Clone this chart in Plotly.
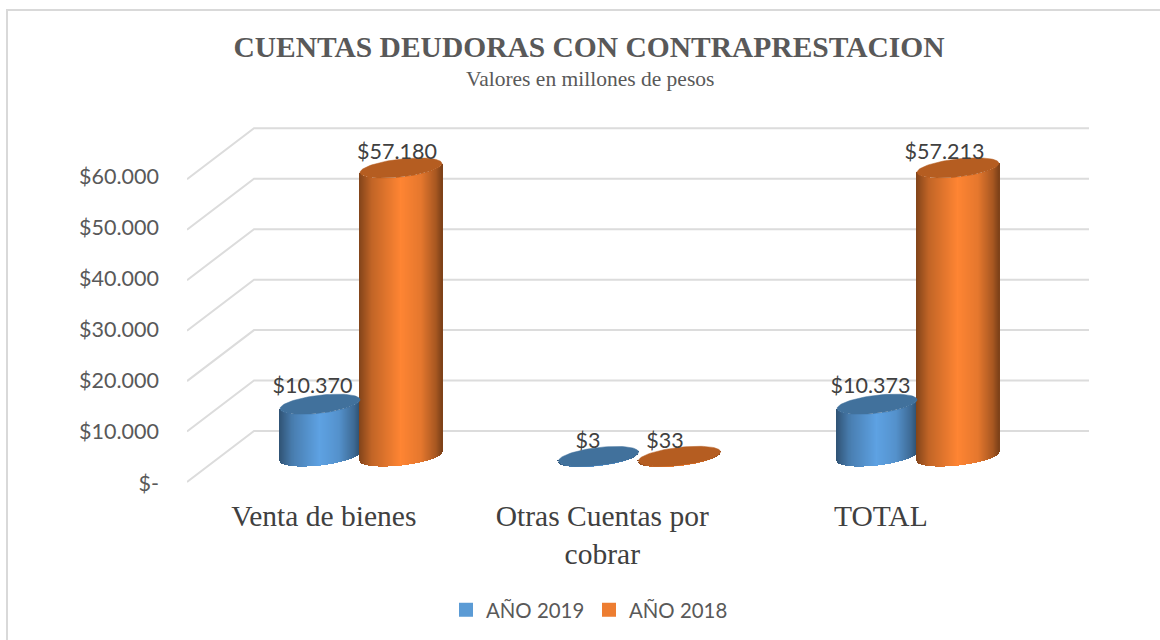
import numpy as np
import plotly.graph_objects as go

# --- data -------------------------------------------------------------
CATEGORIES = ["Venta de bienes", "Otras Cuentas por<br>cobrar", "TOTAL"]
SERIES_2019 = [10370, 3, 10373]
SERIES_2018 = [57180, 33, 57213]
LABELS_2019 = ["$10.370", "$3", "$10.373"]
LABELS_2018 = ["$57.180", "$33", "$57.213"]
Y_TICKS = [0, 10000, 20000, 30000, 40000, 50000, 60000]
Y_TICK_LABELS = ["$-", "$10.000", "$20.000", "$30.000", "$40.000", "$50.000", "$60.000"]

# --- geometry / style --------------------------------------------------
W, H = 1160, 640
PL, PR, PT, PB = 187, 1089, 100, 492
FLOOR_PX = 482
PX_PER_X = 278.5
PX_PER_Y = 50.45 / 10000
X0_PX = 360
XR = [(PL - X0_PX) / PX_PER_X, (PR - X0_PX) / PX_PER_X]
YR = [-(PB - FLOOR_PX) / PX_PER_Y, (FLOOR_PX - PT) / PX_PER_Y]
DX = 67 / PX_PER_X
DY = 51 / PX_PER_Y
BAR_W = 41 / PX_PER_X
BAR_W_2019 = 40 / PX_PER_X
ELL_B = 9 / PX_PER_Y
ELL_S = 4.5 / PX_PER_Y
N = 83
BLUE, ORANGE = (94, 162, 227), (255, 133, 51)
BLUE_CAP, ORANGE_CAP = "#41719c", "#b55d21"
GRID = "#dcdcdc"
TXT = "#404040"
GREY = "#595959"
CAL = "Lato, Carlito, Calibri, sans-serif"
SERIF = "Liberation Serif, Times New Roman, serif"
STOPS_U = [-1, -0.7, 0, 0.5, 0.86, 1]
STOPS_F = [0.52, 0.76, 1.0, 0.9, 0.66, 0.5]
LABEL_DX_2019 = [-7.5, -10.5, -6.5]
LABEL_DX_2018 = [-4, -14.5, -13.5]
LABEL_DY_2019 = [16.5, 13.5, 16.5]
LABEL_DY_2018 = [14.5, 13.5, 14.5]
TICK_SHIFT = -1 / PX_PER_Y


def body(values, side, hw, rgb, name):
    u = np.linspace(-1, 1, N)
    xs, bases, ys, cols = [], [], [], []
    f = np.interp(u, STOPS_U, STOPS_F)
    for i, v in enumerate(values):
        c = i + side * hw
        xs += list(c + u * hw)
        bases += list(DY / 2 + ELL_S * u - ELL_B * np.sqrt(1 - u ** 2))
        ys += [v] * N
        cols += ["rgb(%d,%d,%d)" % tuple(int(k * fi) for k in rgb) for fi in f]
    return go.Bar(x=xs, y=ys, base=bases, width=hw * 2 / (N - 1) * 1.3,
                  marker=dict(color=cols, line=dict(width=0)), name=name,
                  showlegend=False, hoverinfo="skip")


def caps(values, side, hw, color, name):
    th = np.linspace(0, 2 * np.pi, 81)
    xs, ys = [], []
    for i, v in enumerate(values):
        c = i + side * hw
        xs += list(c + hw * np.cos(th)) + [None]
        ys += list(DY / 2 + v + ELL_B * np.sin(th) + ELL_S * np.cos(th)) + [None]
    return go.Scatter(x=xs, y=ys, mode="lines", fill="toself", fillcolor=color,
                      line=dict(color=color, width=0.5), showlegend=False, hoverinfo="skip", name=name)


def labels(values, side, hw, texts, dxs, dys):
    return go.Scatter(
        x=[i + side * hw + dxs[i] / PX_PER_X for i in range(len(values))],
        y=[DY / 2 + v + dys[i] / PX_PER_Y for i, v in enumerate(values)],
        mode="text", text=texts, textposition="middle center",
        textfont=dict(family=CAL, size=21.5, color=TXT), showlegend=False, hoverinfo="skip")


def legend_key(name, color):
    return go.Scatter(x=[None], y=[None], mode="markers", name=name,
                      marker=dict(symbol="square", size=14, color=color))


fig = go.Figure()
fig.add_trace(body(SERIES_2019, -1, BAR_W_2019, BLUE, "AÑO 2019"))
fig.add_trace(body(SERIES_2018, 1, BAR_W, ORANGE, "AÑO 2018"))
fig.add_trace(caps(SERIES_2019, -1, BAR_W_2019, BLUE_CAP, "AÑO 2019"))
fig.add_trace(caps(SERIES_2018, 1, BAR_W, ORANGE_CAP, "AÑO 2018"))
fig.add_trace(labels(SERIES_2019, -1, BAR_W_2019, LABELS_2019, LABEL_DX_2019, LABEL_DY_2019))
fig.add_trace(labels(SERIES_2018, 1, BAR_W, LABELS_2018, LABEL_DX_2018, LABEL_DY_2018))
fig.add_trace(legend_key("AÑO 2019", "#5b9bd5"))
fig.add_trace(legend_key("AÑO 2018", "#ed7d31"))

shapes = []
for v in Y_TICKS:
    shapes.append(dict(type="path", layer="below", xref="x", yref="y",
                       path="M %f %f L %f %f L %f %f" % (XR[0], v, XR[0] + DX, v + DY, XR[1], v + DY),
                       line=dict(color=GRID, width=2)))
fx = lambda px: (px - PL) / (PR - PL)
fy = lambda py: (PB - py) / (PB - PT)
shapes.append(dict(type="path", xref="paper", yref="paper", layer="below",
                   path="M %f %f L %f %f L %f %f" % (fx(7), fy(640), fx(7), fy(10), fx(1160), fy(10)),
                   line=dict(color="#d9d9d9", width=2)))

fig.update_layout(
    width=W, height=H, autosize=False,
    margin=dict(l=PL, r=W - PR, t=PT, b=H - PB, pad=0),
    paper_bgcolor="white", plot_bgcolor="rgba(0,0,0,0)",
    barmode="overlay", bargap=0,
    title=dict(text="<b>CUENTAS DEUDORAS CON CONTRAPRESTACION</b>", xref="container", yref="container",
               x=589 / W, xanchor="center", y=1 - 47 / H, yanchor="middle",
               font=dict(family=SERIF, size=29.5, color=GREY)),
    annotations=[dict(text="Valores en millones de pesos", xref="paper", yref="paper",
                      x=fx(590), y=fy(79), xanchor="center", yanchor="middle", showarrow=False,
                      font=dict(family=SERIF, size=21.5, color=GREY))],
    xaxis=dict(range=XR, tickmode="array", tickvals=[i - 0.13 for i in range(len(CATEGORIES))],
               ticktext=CATEGORIES, showgrid=False, zeroline=False, showline=False, ticks="",
               ticklabelstandoff=3,
               tickfont=dict(family=SERIF, size=29.5, color=TXT), tickangle=0, fixedrange=True),
    yaxis=dict(range=YR, tickmode="array", tickvals=[v * 1.012 + TICK_SHIFT for v in Y_TICKS],
               ticktext=Y_TICK_LABELS,
               showgrid=False, zeroline=False, showline=False, ticks="", ticklabelstandoff=27,
               tickfont=dict(family=CAL, size=21.5, color=GREY), fixedrange=True),
    legend=dict(orientation="h", xref="container", yref="container", x=446 / W, xanchor="left",
                y=1 - 610 / H, yanchor="middle", font=dict(family=CAL, size=20.4, color=GREY),
                itemwidth=30, entrywidth=98, entrywidthmode="pixels",
                itemclick=False, itemdoubleclick=False, traceorder="normal",
                bgcolor="rgba(0,0,0,0)"),
    shapes=shapes,
)
fig.write_html("out.html", config={"displayModeBar": False},
               post_script="document.body.style.margin='0';document.body.style.overflow='hidden';")
